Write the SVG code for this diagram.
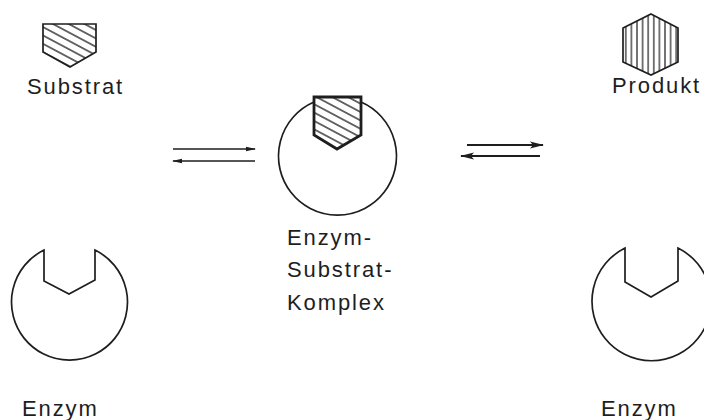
<svg xmlns="http://www.w3.org/2000/svg" width="704" height="420" viewBox="0 0 704 420">
  <style>
    .lbl { font-family: "Liberation Sans", "DejaVu Sans", sans-serif; font-size: 22px; fill: #1e1e1e; letter-spacing: 1.9px; }
    .outline { fill: #fff; stroke: #1e1e1e; stroke-width: 1.7; stroke-linejoin: miter; }
    .bold { stroke-width: 2.8; }
    .arrow { stroke: #1e1e1e; stroke-width: 1.6; fill: none; }
    .arrow2 { stroke: #1e1e1e; stroke-width: 2; fill: none; }
  </style>
  <defs>
    <!-- diagonal hatching for the substrate -->
    <pattern id="hatch" patternUnits="userSpaceOnUse" width="12" height="7.4" patternTransform="rotate(28)">
      <rect width="12" height="7.4" fill="#fff"/>
      <line x1="0" y1="3.7" x2="12" y2="3.7" stroke="#1e1e1e" stroke-width="1.3"/>
    </pattern>
    <!-- vertical hatching for the product -->
    <pattern id="vhatch" patternUnits="userSpaceOnUse" x="623" width="5.6" height="10">
      <rect width="5.6" height="10" fill="#fff"/>
      <line x1="2.8" y1="0" x2="2.8" y2="10" stroke="#1e1e1e" stroke-width="1.2"/>
    </pattern>
    <marker id="headS" viewBox="0 0 10 6" refX="9" refY="3" markerWidth="10" markerHeight="6" markerUnits="userSpaceOnUse" orient="auto">
      <path d="M0,0.8 L10,3 L0,5.2 Z" fill="#1e1e1e"/>
    </marker>
    <marker id="headL" viewBox="0 0 14 8" refX="13" refY="4" markerWidth="14" markerHeight="8" markerUnits="userSpaceOnUse" orient="auto">
      <path d="M0,0.5 L14,4 L0,7.5 L3,4 Z" fill="#1e1e1e"/>
    </marker>
  </defs>

  <!-- free substrate -->
  <g id="substrat">
    <path class="outline" d="M43,24 L96,24 L96,52 L70,67 L43,52 Z" style="fill:url(#hatch)"/>
    <text class="lbl" x="27" y="94">Substrat</text>
  </g>

  <!-- product -->
  <g id="produkt">
    <path class="outline" d="M651,14 L678,28 L678,62 L651,75 L623,62 L623,28 Z" style="fill:url(#vhatch)"/>
    <text class="lbl" x="612" y="93">Produkt</text>
  </g>

  <!-- enzyme-substrate complex -->
  <g id="komplex">
    <path class="outline" d="M361,102 A59,59 0 1 1 314,102"/>
    <path class="outline bold" d="M314,97 L361,97 L361,135 L337,149 L314,135 Z" style="fill:url(#hatch)"/>
    <text class="lbl" x="287" y="245">Enzym-</text>
    <text class="lbl" x="287" y="277">Substrat-</text>
    <text class="lbl" x="287" y="310">Komplex</text>
  </g>

  <!-- free enzyme, left -->
  <g id="enzym-links">
    <path class="outline" d="M44,250 L44,281 L69,294 L95,280 L95,250 A58,58 0 1 1 44,250 Z"/>
    <text class="lbl" x="22" y="416">Enzym</text>
  </g>

  <!-- free enzyme, right -->
  <g id="enzym-rechts">
    <path class="outline" d="M625,248 L625,282 L651,297 L678,281 L678,248 A59.5,59.5 0 1 1 625,248 Z"/>
    <text class="lbl" x="601" y="416">Enzym</text>
  </g>

  <!-- equilibrium arrows -->
  <g id="connectors">
    <line class="arrow" x1="173" y1="149" x2="255" y2="149" marker-end="url(#headS)"/>
    <line class="arrow" x1="255" y1="161" x2="173" y2="161" marker-end="url(#headS)"/>
    <line class="arrow2" x1="467" y1="145" x2="543" y2="145" marker-end="url(#headL)"/>
    <line class="arrow2" x1="540" y1="156" x2="461" y2="156" marker-end="url(#headL)"/>
  </g>
</svg>
